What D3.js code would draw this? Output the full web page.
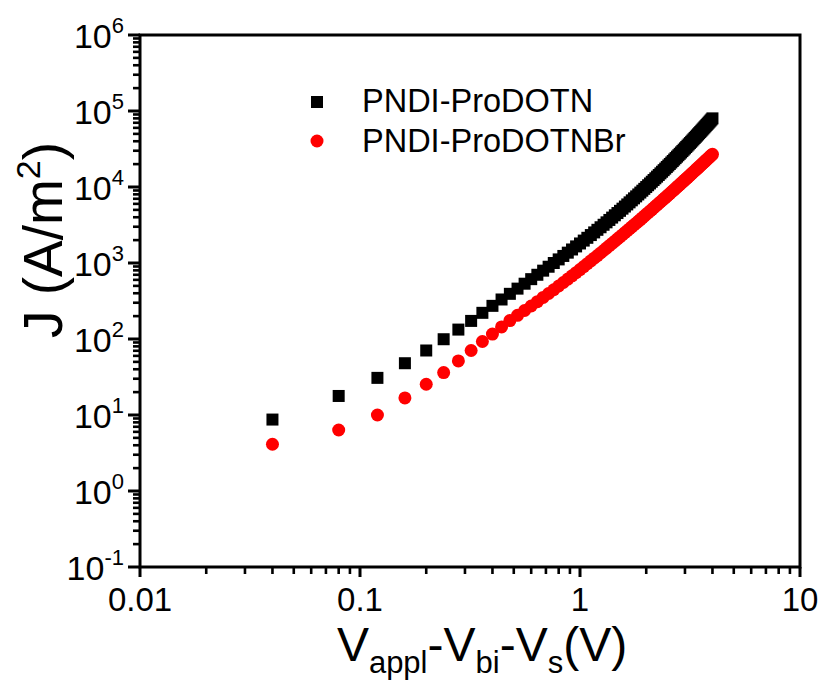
<!DOCTYPE html>
<html>
<head>
<meta charset="utf-8">
<title>J-V log plot</title>
<script src="https://d3js.org/d3.v7.min.js"></script>
<style>
  body { margin: 0; background: #fff; }
  svg { display: block; font-family: "Liberation Sans", Arial, Helvetica, sans-serif; }
</style>
</head>
<body>
<div id="chart"></div>
<script>
// voltage V_appl - V_bi - V_s (V)
const voltage = [
  0.04, 0.08, 0.12, 0.16, 0.20, 0.24, 0.28, 0.32, 0.36, 0.40,
  0.44, 0.48, 0.52, 0.56, 0.60, 0.64, 0.68, 0.72, 0.76, 0.80,
  0.84, 0.88, 0.92, 0.96, 1.00, 1.04, 1.08, 1.12, 1.16, 1.20,
  1.24, 1.28, 1.32, 1.36, 1.40, 1.44, 1.48, 1.52, 1.56, 1.60,
  1.64, 1.68, 1.72, 1.76, 1.80, 1.84, 1.88, 1.92, 1.96, 2.00,
  2.04, 2.08, 2.12, 2.16, 2.20, 2.24, 2.28, 2.32, 2.36, 2.40,
  2.44, 2.48, 2.52, 2.56, 2.60, 2.64, 2.68, 2.72, 2.76, 2.80,
  2.84, 2.88, 2.92, 2.96, 3.00, 3.04, 3.08, 3.12, 3.16, 3.20,
  3.24, 3.28, 3.32, 3.36, 3.40, 3.44, 3.48, 3.52, 3.56, 3.60,
  3.64, 3.68, 3.72, 3.76, 3.80, 3.84, 3.88, 3.92, 3.96, 4.00
];

// current density J (A/m^2), PNDI-ProDOTN
const jProDOTN = [
  8.71, 17.8, 30.8, 48.0, 70.6, 99.3, 133, 173, 221, 273,
  331, 393, 460, 534, 613, 700, 793, 893, 1000, 1115,
  1238, 1368, 1506, 1653, 1807, 1972, 2146, 2331, 2526, 2734,
  2953, 3185, 3428, 3686, 3958, 4243, 4543, 4858, 5188, 5534,
  5896, 6277, 6674, 7089, 7523, 7977, 8450, 8943, 9457, 9992,
  10550, 11130, 11730, 12360, 13010, 13690, 14390, 15120, 15880, 16660,
  17470, 18320, 19190, 20090, 21020, 21990, 22990, 24020, 25090, 26190,
  27330, 28500, 29710, 30970, 32250, 33580, 34960, 36370, 37830, 39320,
  40870, 42460, 44100, 45780, 47510, 49290, 51120, 53000, 54940, 56920,
  58970, 61060, 63220, 65430, 67700, 70030, 72420, 74880, 77400, 79980
];

// current density J (A/m^2), PNDI-ProDOTNBr
const jProDOTNBr = [
  4.12, 6.35, 10.0, 16.8, 25.4, 36.2, 51.5, 70.6, 92.7, 116,
  144, 175, 205, 237, 272, 310, 352, 397, 445, 498,
  554, 614, 678, 747, 820, 898, 980, 1067, 1158, 1254,
  1355, 1461, 1573, 1689, 1811, 1938, 2071, 2209, 2353, 2504,
  2660, 2823, 2991, 3166, 3347, 3535, 3730, 3933, 4142, 4358,
  4581, 4812, 5050, 5295, 5548, 5809, 6078, 6355, 6640, 6934,
  7236, 7546, 7865, 8193, 8529, 8875, 9230, 9596, 9969, 10350,
  10750, 11150, 11560, 11980, 12420, 12860, 13310, 13780, 14250, 14740,
  15240, 15740, 16260, 16790, 17330, 17890, 18450, 19030, 19620, 20220,
  20840, 21460, 22100, 22750, 23410, 24090, 24780, 25490, 26200, 26930
];

const seriesNames = ["PNDI-ProDOTN", "PNDI-ProDOTNBr"];
const seriesColors = ["#000000", "#ff0000"];

const xMajorTicks = [0.01, 0.1, 1, 10];
const xTickLabels = ["0.01", "0.1", "1", "10"];
const yExponents = [-1, 0, 1, 2, 3, 4, 5, 6];

const width = 820, height = 682;
const m = { left: 140, right: 800, top: 35, bottom: 567 };

const svg = d3.select("#chart").append("svg")
  .attr("width", width)
  .attr("height", height);

svg.append("rect").attr("width", width).attr("height", height).attr("fill", "#fff");

const x = d3.scaleLog().domain([0.01, 10]).range([m.left, m.right]);
const y = d3.scaleLog().domain([0.1, 1e6]).range([m.bottom, m.top]);

// minor ticks 2..9 in every decade
const xMinor = [];
[0.01, 0.1, 1].forEach(d => { for (let k = 2; k <= 9; k++) xMinor.push(d * k); });
const yMinor = [];
yExponents.slice(0, -1).forEach(e => { for (let k = 2; k <= 9; k++) yMinor.push(Math.pow(10, e) * k); });

// ticks are drawn as thin filled rects, pointing outward
const axes = svg.append("g").attr("fill", "#000");
axes.selectAll("rect.xminor").data(xMinor).join("rect")
  .attr("class", "xminor")
  .attr("x", d => x(d) - 1.3).attr("width", 2.6)
  .attr("y", m.bottom).attr("height", 7);
axes.selectAll("rect.xmajor").data(xMajorTicks).join("rect")
  .attr("class", "xmajor")
  .attr("x", d => x(d) - 1.5).attr("width", 3)
  .attr("y", m.bottom).attr("height", 10);
axes.selectAll("rect.yminor").data(yMinor).join("rect")
  .attr("class", "yminor")
  .attr("y", d => y(d) - 1.3).attr("height", 2.6)
  .attr("x", m.left - 7).attr("width", 7);
axes.selectAll("rect.ymajor").data(yExponents).join("rect")
  .attr("class", "ymajor")
  .attr("y", d => y(Math.pow(10, d)) - 1.5).attr("height", 3)
  .attr("x", m.left - 12).attr("width", 12);

// frame
svg.append("rect")
  .attr("x", m.left).attr("y", m.top)
  .attr("width", m.right - m.left).attr("height", m.bottom - m.top)
  .attr("fill", "none").attr("stroke", "#000").attr("stroke-width", 3);

// tick labels
svg.append("g").selectAll("text").data(xMajorTicks).join("text")
  .attr("x", d => x(d))
  .attr("y", m.bottom + 44)
  .attr("text-anchor", "middle")
  .attr("font-size", 33)
  .text((d, i) => xTickLabels[i]);

const yLab = svg.append("g").selectAll("text").data(yExponents).join("text")
  .attr("x", m.left - 16)
  .attr("y", d => y(Math.pow(10, d)) + 13)
  .attr("text-anchor", "end")
  .attr("font-size", 34);
yLab.append("tspan").text("10");
yLab.append("tspan").attr("font-size", 22).attr("dy", -15).text(d => d);

// data
const plot = svg.append("g");
plot.selectAll("rect.pt")
  .data(voltage.map((v, i) => [v, jProDOTN[i]]))
  .join("rect")
  .attr("class", "pt")
  .attr("x", d => x(d[0]) - 6)
  .attr("y", d => y(d[1]) - 6)
  .attr("width", 12).attr("height", 12)
  .attr("fill", seriesColors[0]);

plot.selectAll("circle.pt")
  .data(voltage.map((v, i) => [v, jProDOTNBr[i]]))
  .join("circle")
  .attr("class", "pt")
  .attr("cx", d => x(d[0]))
  .attr("cy", d => y(d[1]))
  .attr("r", 6.5)
  .attr("fill", seriesColors[1]);

// legend
const legend = svg.append("g").attr("transform", "translate(317,0)");
legend.append("rect").attr("x", -6).attr("y", 96).attr("width", 12).attr("height", 12).attr("fill", seriesColors[0]);
legend.append("circle").attr("cx", 0).attr("cy", 141).attr("r", 6.5).attr("fill", seriesColors[1]);
legend.selectAll("text")
  .data(seriesNames)
  .join("text")
  .attr("x", 45)
  .attr("y", (d, i) => 112 + i * 40)
  .attr("font-size", 32.5)
  .text(d => d);

// axis titles
const xt = svg.append("text")
  .attr("x", 482).attr("y", 661)
  .attr("text-anchor", "middle")
  .attr("font-size", 48);
xt.append("tspan").text("V");
xt.append("tspan").attr("font-size", 31).attr("dy", 12).text("appl");
xt.append("tspan").attr("dy", -12).text("-V");
xt.append("tspan").attr("font-size", 31).attr("dy", 12).text("bi");
xt.append("tspan").attr("dy", -12).text("-V");
xt.append("tspan").attr("font-size", 31).attr("dy", 12).text("s");
xt.append("tspan").attr("dy", -12).text("(V)");

const yt = svg.append("text")
  .attr("transform", "translate(62,240) rotate(-90)")
  .attr("text-anchor", "middle")
  .attr("font-size", 55);
yt.append("tspan").text("J (A/m");
yt.append("tspan").attr("font-size", 34).attr("dy", -22).text("2");
yt.append("tspan").attr("dy", 22).text(")");
</script>
</body>
</html>
